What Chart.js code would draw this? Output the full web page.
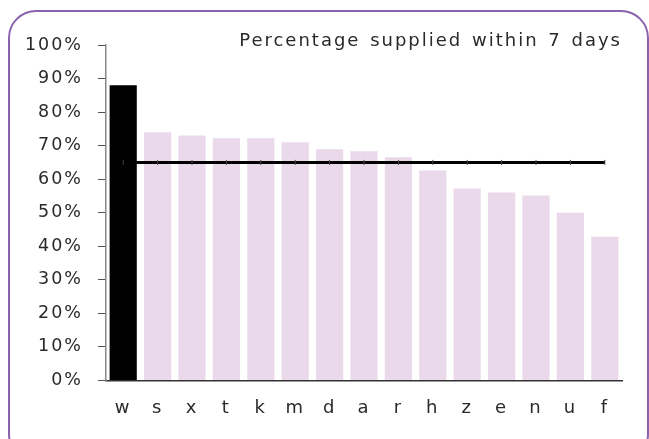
<!DOCTYPE html>
<html>
<head>
<meta charset="utf-8">
<script src="https://cdn.jsdelivr.net/npm/chart.js@4/dist/chart.umd.min.js"></script>
<style>
  html, body { margin: 0; padding: 0; background: #ffffff; overflow: hidden; }
  #wrap { position: relative; width: 649px; height: 439px; overflow: hidden; }
  #frame { position: absolute; left: 8px; top: 10px; width: 641px; height: 452px; box-sizing: border-box;
           border: 2px solid #8a62ad; border-radius: 28px; }
  #c { position: absolute; left: 0; top: 0; }
</style>
</head>
<body>
<div id="wrap">
  <div id="frame"></div>
  <canvas id="c" width="649" height="439"></canvas>
</div>
<script>
const categories = ['w','s','x','t','k','m','d','a','r','h','z','e','n','u','f'];
const supplied = [88, 74, 73, 72.2, 72.2, 71, 68.9, 68.3, 66.5, 62.6, 57.2, 56, 55.1, 50, 42.8];
const average = [65, 65, 65, 65, 65, 65, 65, 65, 65, 65, 65, 65, 65, 65, 65];
const yTicks = [0, 10, 20, 30, 40, 50, 60, 70, 80, 90, 100];
const titleText = 'Percentage supplied within 7 days';

const barColors = categories.map((c, i) => i === 0 ? '#000000' : '#e9d9eb');

const SPACING = '2px';
const WORDSPACING = '2px';
function setSpacing(chart) {
  chart.ctx.letterSpacing = SPACING;
  chart.ctx.wordSpacing = WORDSPACING;
}
const spacingPlugin = {
  id: 'spacing',
  beforeUpdate: setSpacing,
  beforeLayout: setSpacing,
  beforeDraw: setSpacing
};

Chart.defaults.font.family = '"DejaVu Sans", Verdana, sans-serif';
Chart.defaults.font.size = 18;
Chart.defaults.color = '#2a2a2a';

new Chart(document.getElementById('c'), {
  data: {
    labels: categories,
    datasets: [
      {
        type: 'line',
        data: average,
        borderColor: '#000000',
        borderWidth: 3,
        pointStyle: 'line',
        rotation: 90,
        pointRadius: 2.5,
        pointBorderWidth: 1,
        pointBorderColor: '#444444',
        pointHoverRadius: 2.5,
        order: 0
      },
      {
        type: 'bar',
        data: supplied,
        backgroundColor: barColors,
        barPercentage: 0.79,
        categoryPercentage: 1.0,
        order: 1
      }
    ]
  },
  options: {
    responsive: false,
    animation: false,
    devicePixelRatio: 1,
    layout: { padding: { left: 10, right: 27, top: 2, bottom: 3 } },
    plugins: {
      legend: { display: false },
      tooltip: { enabled: false },
      title: {
        display: true,
        text: titleText,
        align: 'end',
        color: '#2a2a2a',
        font: { size: 18, weight: 'normal' },
        padding: { top: 29, bottom: -7.6 }
      }
    },
    scales: {
      x: {
        grid: { display: false, drawTicks: false },
        border: { display: true, color: '#333333', width: 1.5 },
        ticks: { padding: 17, autoSkip: false, maxRotation: 0 }
      },
      y: {
        min: 0,
        max: 100,
        afterFit(scale) { scale.width = 96; },
        afterBuildTicks(scale) { scale.ticks = yTicks.map(v => ({ value: v })); },
        grid: { display: true, drawOnChartArea: false, drawTicks: true, tickLength: 8, color: '#555555' },
        border: { display: true, color: '#888888', width: 1.5 },
        ticks: { padding: 15, font: { size: 17.5 }, callback: v => v + '%' }
      }
    }
  },
  plugins: [spacingPlugin]
});
</script>
</body>
</html>
